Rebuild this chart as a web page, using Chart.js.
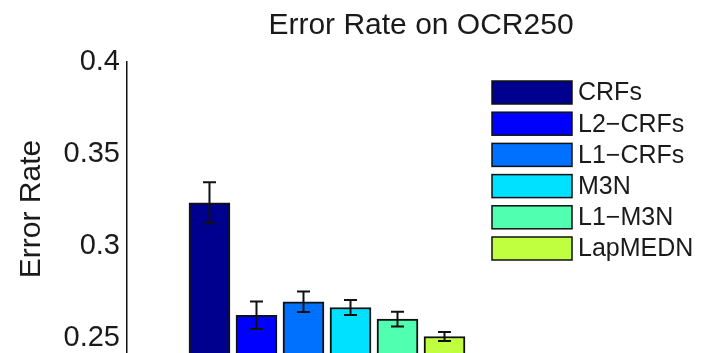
<!DOCTYPE html>
<html>
<head>
<meta charset="utf-8">
<title>Error Rate on OCR250</title>
<script src="https://cdn.jsdelivr.net/npm/chart.js@4.4.1/dist/chart.umd.min.js"></script>
<style>
    html, body { margin: 0; padding: 0; background: #fff; overflow: hidden; }
    #wrap { position: relative; width: 715px; height: 356px; }
</style>
</head>
<body>
<div id="wrap"><canvas id="errorChart"></canvas></div>
<script>
// Methods compared, mean error rate and error bar half-width
const methods = ['CRFs', 'L2\u2212CRFs', 'L1\u2212CRFs', 'M3N', 'L1\u2212M3N', 'LapMEDN'];
const errorRate = [0.3234, 0.2622, 0.2695, 0.2664, 0.2601, 0.2506];
const errorSpread = [0.0112, 0.0075, 0.0056, 0.0041, 0.0040, 0.0025];
const barColors = ['#00008F', '#0000FF', '#0070FF', '#00E0FF', '#50FFB0', '#BFFF40'];
const yTicks = [0.25, 0.3, 0.35, 0.4];

const FONT = 'Liberation Sans, Arial, Helvetica, sans-serif';
const TEXT = '#1a1a1a';

// Error bars drawn on top of each bar
const errorBars = {
    id: 'errorBars',
    afterDatasetsDraw(chart) {
        const ctx = chart.ctx;
        const y = chart.scales.y;
        const meta = chart.getDatasetMeta(0);
        ctx.save();
        ctx.strokeStyle = '#111';
        ctx.lineWidth = 2;
        meta.data.forEach((bar, i) => {
            const top = y.getPixelForValue(errorRate[i] + errorSpread[i]);
            const bottom = y.getPixelForValue(errorRate[i] - errorSpread[i]);
            const cap = 6.5;
            ctx.beginPath();
            ctx.moveTo(bar.x, top);
            ctx.lineTo(bar.x, bottom);
            ctx.moveTo(bar.x - cap, top);
            ctx.lineTo(bar.x + cap, top);
            ctx.moveTo(bar.x - cap, bottom);
            ctx.lineTo(bar.x + cap, bottom);
            ctx.stroke();
        });
        ctx.restore();
    }
};

// Legend box inside the axes, top right
const boxLegend = {
    id: 'boxLegend',
    afterDraw(chart) {
        const ctx = chart.ctx;
        const left = 492, top = 81, pitch = 31.2, w = 80, h = 23;
        ctx.save();
        ctx.font = '25px ' + FONT;
        ctx.textBaseline = 'middle';
        methods.forEach((name, i) => {
            const yy = top + i * pitch;
            ctx.fillStyle = barColors[i];
            ctx.fillRect(left, yy, w, h);
            ctx.strokeStyle = '#111';
            ctx.lineWidth = 1.5;
            ctx.strokeRect(left, yy, w, h);
            ctx.fillStyle = TEXT;
            ctx.fillText(name, left + w + 6, yy + h / 2 + 1);
        });
        ctx.restore();
    }
};

const ctx = document.getElementById('errorChart').getContext('2d');

new Chart(ctx, {
    type: 'bar',
    data: {
        datasets: [{
            label: 'Error Rate',
            data: errorRate.map((v, i) => ({ x: i + 1, y: v })),
            backgroundColor: barColors,
            borderColor: '#111',
            borderWidth: 2,
            borderSkipped: false,
            barThickness: 41
        }]
    },
    options: {
        responsive: true,
        maintainAspectRatio: false,
        animation: false,
        layout: { padding: 0 },
        plugins: {
            legend: { display: false },
            tooltip: { enabled: false },
            title: {
                display: true,
                fullSize: false,
                text: 'Error Rate on OCR250',
                color: TEXT,
                font: { family: FONT, size: 30, weight: 'normal' },
                padding: { top: 8, bottom: 18 }
            }
        },
        scales: {
            x: {
                type: 'linear',
                display: false,
                offset: false,
                min: -0.755,
                max: 11.755
            },
            y: {
                min: 0.24,
                max: 0.4,
                grid: { display: false, drawTicks: false },
                border: { display: true, color: '#111', width: 1.5 },
                afterBuildTicks(scale) {
                    scale.ticks = yTicks.map(v => ({ value: v }));
                },
                afterFit(scale) {
                    scale.width = 127;
                    scale.paddingTop = 0;
                    scale.paddingBottom = 0;
                },
                ticks: {
                    color: TEXT,
                    padding: 7,
                    font: { family: FONT, size: 29 },
                    callback: v => String(v)
                },
                title: {
                    display: true,
                    text: 'Error Rate',
                    color: TEXT,
                    font: { family: FONT, size: 30 },
                    padding: { top: 14, bottom: 0 }
                }
            }
        }
    },
    plugins: [errorBars, boxLegend]
});
</script>
</body>
</html>
